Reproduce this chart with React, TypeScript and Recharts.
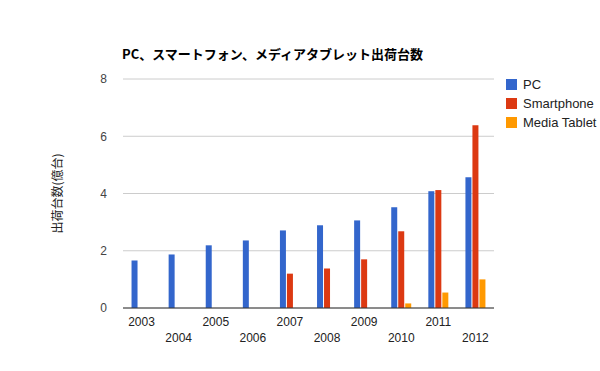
import { BarChart, Bar, XAxis, YAxis, CartesianGrid, Legend } from "recharts";

const years = ["2003", "2004", "2005", "2006", "2007", "2008", "2009", "2010", "2011", "2012"];
const pc = [1.66, 1.87, 2.19, 2.36, 2.71, 2.89, 3.06, 3.52, 4.08, 4.57];
const smartphone = [null, null, null, null, 1.2, 1.38, 1.7, 2.68, 4.12, 6.38];
const mediaTablet = [null, null, null, null, null, null, null, 0.16, 0.54, 1.0];
const yTicks = [0, 2, 4, 6, 8];

const series = [
  { key: "PC", color: "#3366cc" },
  { key: "Smartphone", color: "#dc3912" },
  { key: "Media Tablet", color: "#ff9900" },
];

const data = years.map((y, i) => ({
  year: y,
  PC: pc[i],
  Smartphone: smartphone[i],
  "Media Tablet": mediaTablet[i],
}));

const FONT = '"Liberation Sans", Arial, "Noto Sans CJK JP", sans-serif';

function YearTick({ x, y, payload, index }: any) {
  return (
    <text
      x={x}
      y={y}
      dy={index % 2 ? 26 : 10}
      textAnchor="middle"
      fontSize={12}
      fontFamily={FONT}
      fill="#222"
    >
      {payload.value}
    </text>
  );
}

function AxisTitle({ viewBox }: any) {
  const cy = viewBox.y + viewBox.height / 2;
  return (
    <text
      x={62}
      y={cy}
      transform={`rotate(-90, 62, ${cy})`}
      textAnchor="middle"
      fontSize={12}
      fontFamily={'"Noto Sans CJK JP", sans-serif'}
      fill="#222"
    >
      出荷台数(億台)
    </text>
  );
}

function LegendBox() {
  return (
    <div style={{ fontFamily: FONT, fontSize: 13, color: "#222" }}>
      {series.map((s) => (
        <div key={s.key} style={{ display: "flex", alignItems: "center", height: 19 }}>
          <span
            style={{ width: 11, height: 11, background: s.color, display: "inline-block", marginRight: 6 }}
          />
          {s.key}
        </div>
      ))}
    </div>
  );
}

export default function App() {
  return (
    <div style={{ position: "absolute", left: 0, top: 0, width: 600, height: 371, background: "#fff" }}>
      <div
        style={{
          position: "absolute",
          left: 122,
          top: 44,
          fontSize: 13,
          fontWeight: "bold",
          fontFamily: '"Noto Sans CJK JP", sans-serif',
          color: "#000",
          whiteSpace: "nowrap",
        }}
      >
        PC、スマートフォン、メディアタブレット出荷台数
      </div>
      <BarChart
        width={600}
        height={371}
        data={data}
        margin={{ top: 79, right: 12, left: 0, bottom: 0 }}
        barCategoryGap="23%"
        barGap={1}
      >
        <CartesianGrid vertical={false} stroke="#cccccc" />
        <XAxis
          dataKey="year"
          interval={0}
          tickLine={false}
          axisLine={{ stroke: "#333" }}
          tick={<YearTick />}
          height={63}
        />
        <YAxis
          width={123}
          domain={[0, 8]}
          ticks={yTicks}
          axisLine={false}
          tickLine={false}
          tick={{ fontSize: 12, fill: "#444", fontFamily: FONT }}
          tickMargin={10}
          label={<AxisTitle />}
        />
        <Legend
          layout="vertical"
          align="right"
          verticalAlign="top"
          content={<LegendBox />}
          wrapperStyle={{ left: 506, top: 75, width: 94 }}
        />
        {series.map((s) => (
          <Bar key={s.key} dataKey={s.key} fill={s.color} isAnimationActive={false} />
        ))}
      </BarChart>
    </div>
  );
}
